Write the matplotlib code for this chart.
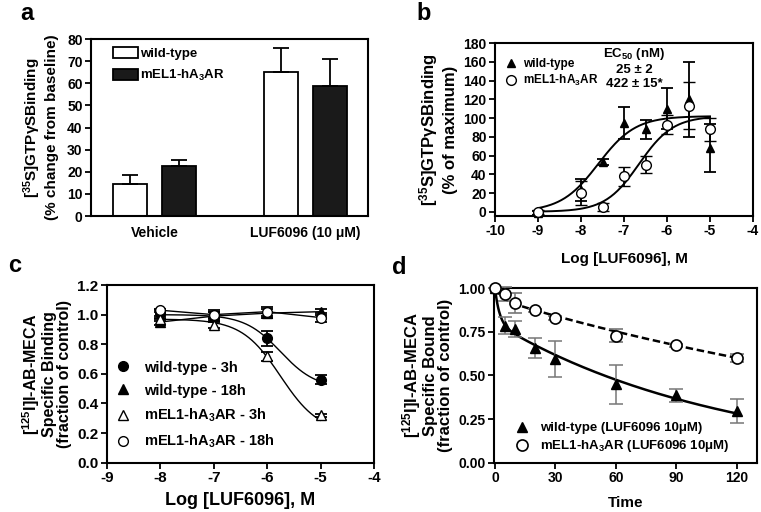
import numpy as np
import matplotlib.pyplot as plt
from matplotlib.patches import Patch
from matplotlib.lines import Line2D

plt.rcParams['font.family'] = ['Liberation Sans', 'DejaVu Sans']
plt.rcParams['font.weight'] = 'bold'
plt.rcParams['axes.labelweight'] = 'bold'
plt.rcParams['axes.unicode_minus'] = False
plt.rcParams['mathtext.fontset'] = 'custom'
plt.rcParams['mathtext.rm'] = 'Liberation Sans:bold'
plt.rcParams['mathtext.bf'] = 'Liberation Sans:bold'
plt.rcParams['mathtext.default'] = 'rm'

# ---- panel a: bars
groups = ['Vehicle', 'LUF6096 (10 μM)']
wt_a = [14.5, 65.0]
wt_a_err = [4.0, 11.0]
mel_a = [22.5, 59.0]
mel_a_err = [3.0, 12.0]

# ---- panel b: GTPgS dose response
log_b = [-9, -8, -7.5, -7, -6.5, -6, -5.5, -5]
wt_b = [-1, 23, 53, 95, 88, 110, 120, 68]
wt_b_err = [2, 12, 3, 17, 10, 22, 40, 26]
mel_b = [0, 20, 5, 38, 50, 93, 113, 88]
mel_b_err = [2, 13, 4, 10, 9, 10, 25, 12]
# fitted sigmoid parameters (top, log EC50, hill)
fit_b_top = 102
fit_b_wt = (-7.6, 1.0)
fit_b_mel = (-6.65, 1.1)

# ---- panel c: binding after pretreatment
log_c = [-8, -7, -6, -5]
wt3 = [1.01, 1.00, 0.84, 0.56]
wt3_err = [0.02, 0.03, 0.05, 0.03]
wt18 = [0.95, 0.99, 1.01, 1.02]
wt18_err = [0.02, 0.03, 0.03, 0.02]
mel3 = [0.97, 0.93, 0.72, 0.32]
mel3_err = [0.01, 0.02, 0.03, 0.01]
mel18 = [1.03, 1.00, 1.02, 0.98]
mel18_err = [0.01, 0.02, 0.03, 0.03]
# fitted sigmoid parameters (top, bottom, log IC50, hill)
fit_c_wt3 = (1.0, 0.5, -5.75, 1.3)
fit_c_mel3 = (0.97, 0.2, -5.75, 1.2)

# ---- panel d: dissociation
t_wt = [0, 5, 10, 20, 30, 60, 90, 120]
wt_d = [1.0, 0.785, 0.766, 0.657, 0.594, 0.448, 0.385, 0.295]
wt_d_err = [0.0, 0.05, 0.045, 0.055, 0.105, 0.11, 0.037, 0.07]
t_mel = [0, 5, 10, 20, 30, 60, 90, 120]
mel_d = [1.0, 0.965, 0.914, 0.872, 0.829, 0.728, 0.672, 0.60]
mel_d_err = [0.0, 0.04, 0.057, 0.01, 0.01, 0.035, 0.01, 0.025]
# two-phase decay fits (A fast, k fast, A slow, k slow)
fit_d_wt = (0.2, 0.45, 0.8, 0.0087)
fit_d_mel = (0.06, 0.3, 0.94, 0.00374)

fig = plt.figure(figsize=(7.61, 5.12), dpi=100)


def style(ax, fs=10):
    for s in ax.spines.values():
        s.set_linewidth(1.5)
    ax.tick_params(direction='out', length=4, width=1.3, labelsize=fs, pad=2)


# ---------------- a
ax = fig.add_axes([0.1196, 0.578, 0.364, 0.3457])
x = np.arange(len(groups))
ax.bar(x - 0.164, wt_a, 0.225, color='white', edgecolor='black', linewidth=1.3,
       yerr=[np.zeros(2), wt_a_err], capsize=6,
       error_kw=dict(ecolor='black', elinewidth=1.3, capthick=1.3))
ax.bar(x + 0.164, mel_a, 0.225, color='#1a1a1a', edgecolor='black', linewidth=1.3,
       yerr=[np.zeros(2), mel_a_err], capsize=6,
       error_kw=dict(ecolor='black', elinewidth=1.3, capthick=1.3))
ax.set_xlim(-0.42, 1.414)
ax.set_ylim(0, 80)
ax.set_yticks(range(0, 81, 10))
ax.set_xticks(x)
ax.set_xticklabels(groups, fontsize=11)
style(ax)
ax.tick_params(axis='x', length=0, pad=7)
ax.set_ylabel('[$^{35}$S]GTPγSBinding\n(% change from baseline)', fontsize=11, labelpad=6)
ax.legend(handles=[Patch(facecolor='white', edgecolor='black', linewidth=1.3, label='wild-type'),
                   Patch(facecolor='#1a1a1a', edgecolor='black', linewidth=1.3, label='mEL1-hA$_3$AR')],
          loc='upper left', bbox_to_anchor=(0.035, 1.02), frameon=False, fontsize=9.5,
          handlelength=1.9, handleheight=0.9, handletextpad=0.2, labelspacing=0.55)

# ---------------- b
ax = fig.add_axes([0.6505, 0.578, 0.339, 0.338])
xs = np.linspace(-9, -5, 200)
for mid, hill in (fit_b_wt, fit_b_mel):
    ax.plot(xs, fit_b_top / (1 + 10 ** (hill * (mid - xs))), color='black', lw=1.4)
ax.errorbar(log_b, wt_b, yerr=wt_b_err, fmt='^', color='black', ms=6, capsize=4,
            elinewidth=1.3, capthick=1.3, clip_on=False, zorder=3)
ax.errorbar(log_b, mel_b, yerr=mel_b_err, fmt='o', color='black', mfc='white', ms=7, mew=1,
            capsize=4, elinewidth=1.3, capthick=1.3, clip_on=False, zorder=3)
ax.set_xlim(-10, -4)
ax.set_ylim(-4.6, 180)
ax.set_yticks(range(0, 181, 20))
ax.set_xticks(range(-10, -3))
style(ax)
ax.set_xlabel('Log [LUF6096], M', fontsize=11, labelpad=10)
ax.set_ylabel('[$^{35}$S]GTPγSBinding\n(% of maximum)', fontsize=12, labelpad=4)
ax.legend(handles=[Line2D([], [], ls='none', marker='^', color='black', ms=6, label='wild-type'),
                   Line2D([], [], ls='none', marker='o', color='black', mfc='white', ms=7, label='mEL1-hA$_3$AR')],
          loc='upper left', bbox_to_anchor=(-0.005, 0.975), frameon=False, fontsize=8.5,
          handlelength=1.2, handletextpad=0.4, labelspacing=0.25)
ax.text(0.54, 0.855, 'EC$_{50}$ (nM)\n25 ± 2\n422 ± 15*', transform=ax.transAxes,
        ha='center', va='center', fontsize=9.5, linespacing=1.2)

# ---------------- c
ax = fig.add_axes([0.1402, 0.0963, 0.3513, 0.347])
xs = np.linspace(-8, -5, 200)
for top, bot, mid, hill in (fit_c_wt3, fit_c_mel3):
    ax.plot(xs, bot + (top - bot) / (1 + 10 ** (hill * (xs - mid))), color='black', lw=1.0)
ax.plot(log_c, wt18, color='black', lw=1.0)
ax.plot(log_c, mel18, color='black', lw=1.0)
kw = dict(capsize=4, elinewidth=1.3, capthick=1.3, zorder=3)
ax.errorbar(log_c, wt3, yerr=wt3_err, fmt='o', color='black', ms=7, label='wild-type - 3h', **kw)
ax.errorbar(log_c, wt18, yerr=wt18_err, fmt='^', color='black', ms=7, label='wild-type - 18h', **kw)
ax.errorbar(log_c, mel3, yerr=mel3_err, fmt='^', color='black', mfc='white', ms=7,
            label='mEL1-hA$_3$AR - 3h', **kw)
ax.errorbar(log_c, mel18, yerr=mel18_err, fmt='o', color='black', mfc='white', ms=7,
            label='mEL1-hA$_3$AR - 18h', **kw)
ax.set_xlim(-9, -4)
ax.set_ylim(0, 1.2)
ax.set_yticks(np.arange(0, 1.21, 0.2))
ax.set_yticklabels(['0.0', '0.2', '0.4', '0.6', '0.8', '1.0', '1.2'])
ax.set_xticks(range(-9, -3))
style(ax, fs=11)
ax.set_xlabel('Log [LUF6096], M', fontsize=13, labelpad=5)
ax.set_ylabel('[$^{125}$I]I-AB-MECA\nSpecific Binding\n(fraction of control)', fontsize=11.5,
              labelpad=4, linespacing=1.0)
h, l = ax.get_legend_handles_labels()
ax.legend([hh[0] for hh in h], l, loc='lower left', bbox_to_anchor=(-0.02, -0.005), frameon=False,
          fontsize=10.5, handlelength=1.2, handletextpad=0.8, labelspacing=0.62)

# ---------------- d
ax = fig.add_axes([0.6491, 0.0963, 0.3456, 0.3412])
ts = np.linspace(0, 120, 300)
a1, k1, a2, k2 = fit_d_wt
ax.plot(ts, a1 * np.exp(-k1 * ts) + a2 * np.exp(-k2 * ts), color='black', lw=1.8)
a1, k1, a2, k2 = fit_d_mel
ax.plot(ts, a1 * np.exp(-k1 * ts) + a2 * np.exp(-k2 * ts), color='black', lw=1.8, ls=(0, (3, 1.5)))
ax.errorbar(t_wt, wt_d, yerr=wt_d_err, fmt='^', color='black', ecolor='#777777', ms=7,
            capsize=5, elinewidth=1.1, capthick=1.1, clip_on=False, zorder=3,
            label='wild-type (LUF6096 10μM)')
ax.errorbar(t_mel, mel_d, yerr=mel_d_err, fmt='o', color='black', mfc='white', ecolor='#777777',
            ms=8, mew=1.2, capsize=5, elinewidth=1.1, capthick=1.1, clip_on=False, zorder=3,
            label='mEL1-hA$_3$AR (LUF6096 10μM)')
ax.set_xlim(-0.5, 130)
ax.set_ylim(0, 1.0)
ax.set_xticks([0, 30, 60, 90, 120])
ax.set_yticks([0, 0.25, 0.5, 0.75, 1.0])
ax.set_yticklabels(['0.00', '0.25', '0.50', '0.75', '1.00'])
style(ax)
ax.set_xlabel('Time', fontsize=11, labelpad=8)
ax.set_ylabel('[$^{125}$I]I-AB-MECA\nSpecific Bound\n(fraction of control)', fontsize=12,
              labelpad=4, linespacing=1.0)
h, l = ax.get_legend_handles_labels()
ax.legend([hh[0] for hh in h], l, loc='lower left', bbox_to_anchor=(0.03, -0.02), frameon=False,
          fontsize=9.5, handlelength=1.2, handletextpad=0.8, labelspacing=0.3)

# panel letters
for lab, px, py in (('a', 27, 14), ('b', 424, 13), ('c', 15, 266), ('d', 399, 268)):
    fig.text(px / 761, 1 - py / 512, lab, fontsize=17, fontweight='bold', ha='center', va='center')

fig.savefig('out.png', dpi=100)
